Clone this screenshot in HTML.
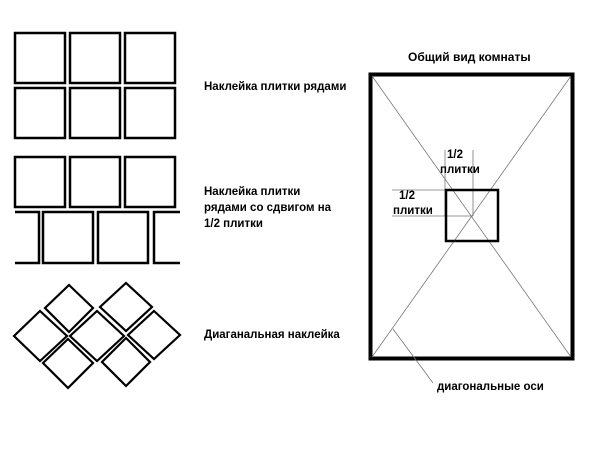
<html><body style="margin:0;background:#fff">
<svg width="600" height="450" xmlns="http://www.w3.org/2000/svg" style="font-family:'Liberation Sans',sans-serif;font-weight:bold;font-size:11.5px">
<g fill="none" stroke="#000" stroke-width="2.5">
<rect x="15" y="33" width="50" height="50"/><rect x="70" y="33" width="50" height="50"/><rect x="125" y="33" width="50" height="50"/>
<rect x="15" y="88" width="50" height="50"/><rect x="70" y="88" width="50" height="50"/><rect x="125" y="88" width="50" height="50"/>
<rect x="15" y="157" width="50" height="50"/><rect x="70" y="157" width="50" height="50"/><rect x="125" y="157" width="50" height="50"/>
<polyline points="15,212 39,212 39,263 15,263"/>
<rect x="43" y="212" width="50" height="51"/><rect x="98" y="212" width="50" height="51"/>
<polyline points="180,212 154,212 154,263 180,263"/>
</g>
<g fill="none" stroke="#000" stroke-width="2.2">
<polygon points="40,311 67,336 40,361 14,336"/>
<polygon points="69,285 93,308 69,332 45,308"/>
<polygon points="97,311 124,336 97,361 70,336"/>
<polygon points="68,339 93,363 68,388 43,363"/>
<polygon points="126,283 152,307 126,331 100,307"/>
<polygon points="154,311 180,335 154,359 128,335"/>
<polygon points="126,338 150,362 126,386 102,362"/>
</g>
<rect x="370.5" y="74.5" width="202" height="284" fill="none" stroke="#000" stroke-width="4"/>
<g stroke="#777" stroke-width="0.8">
<line x1="372" y1="76" x2="571" y2="357"/><line x1="571" y1="76" x2="372" y2="357"/>
<line x1="445" y1="150" x2="445" y2="216"/><line x1="473" y1="150" x2="473" y2="216"/>
<line x1="392" y1="190" x2="446" y2="190"/><line x1="392" y1="216" x2="473" y2="216"/>
<line x1="393" y1="329" x2="433" y2="383"/>
</g>
<rect x="446" y="190" width="52" height="51" fill="none" stroke="#000" stroke-width="2.5"/>
<text x="408" y="61" font-size="12">Общий вид комнаты</text>
<text x="447" y="158">1/2</text><text x="440" y="173">плитки</text>
<text x="399" y="199">1/2</text><text x="393" y="214">плитки</text>
<text x="437" y="390">диагональные оси</text>
<text x="204" y="90">Наклейка плитки рядами</text>
<text x="204" y="195">Наклейка плитки</text>
<text x="204" y="211">рядами со сдвигом на</text>
<text x="204" y="227">1/2 плитки</text>
<text x="204" y="338">Диаганальная наклейка</text>
</svg>
</body></html>
